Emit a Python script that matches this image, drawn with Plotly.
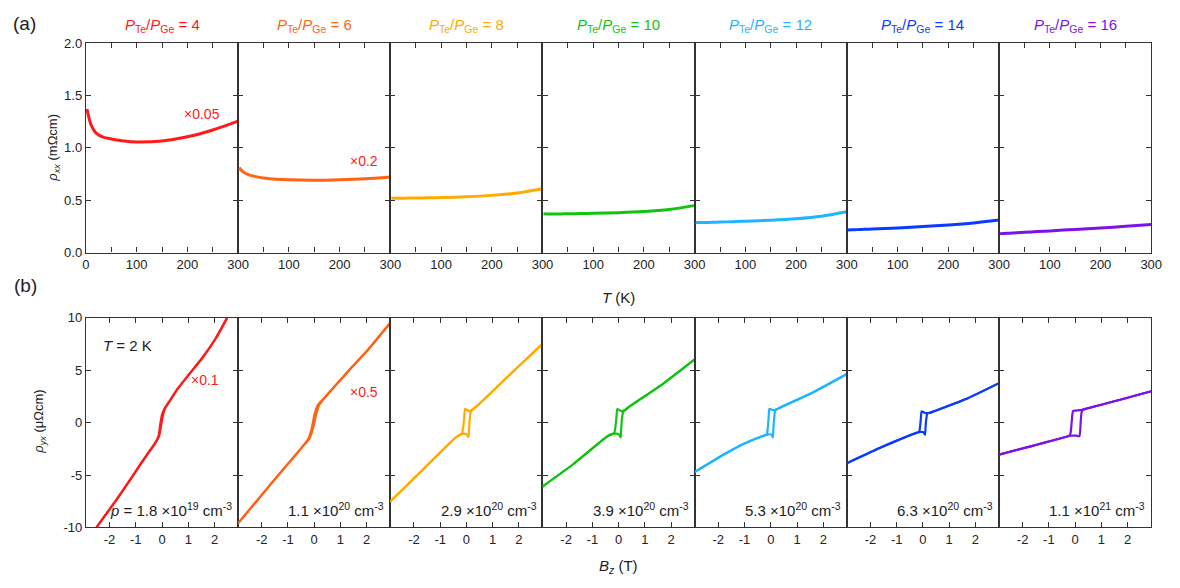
import plotly.graph_objects as go

W, H = 1180, 588

# ---------------- data ----------------
ratios = [4, 6, 8, 10, 12, 14, 16]
colors = ["#ff1a1a", "#ff6414", "#ffab00", "#12c412", "#1eb4ff", "#0a3cff", "#7a14e6"]

# (a) rho_xx vs T
T_vals = [2, 10, 20, 35, 50, 75, 100, 150, 200, 250, 300]
rxx_4 = [1.37, 1.22, 1.14, 1.10, 1.085, 1.065, 1.055, 1.065, 1.105, 1.17, 1.255]
rxx_6 = [0.81, 0.77, 0.745, 0.725, 0.712, 0.70, 0.694, 0.69, 0.695, 0.705, 0.722]
rxx_8 = [0.52, 0.518, 0.518, 0.52, 0.521, 0.523, 0.525, 0.533, 0.546, 0.569, 0.61]
rxx_10 = [0.37, 0.368, 0.368, 0.369, 0.370, 0.372, 0.375, 0.381, 0.392, 0.412, 0.448]
rxx_12 = [0.287, 0.286, 0.287, 0.289, 0.291, 0.295, 0.30, 0.309, 0.323, 0.347, 0.39]
rxx_14 = [0.216, 0.217, 0.219, 0.222, 0.225, 0.23, 0.235, 0.248, 0.263, 0.283, 0.31]
rxx_16 = [0.18, 0.182, 0.185, 0.19, 0.194, 0.20, 0.207, 0.221, 0.235, 0.251, 0.269]
rxx_all = [rxx_4, rxx_6, rxx_8, rxx_10, rxx_12, rxx_14, rxx_16]

# (b) rho_yx vs B (up sweep / down sweep)
B_up_4 = [-2.5, -1.72, -1.09, -0.59, -0.28, -0.11, -0.03, 0.04, 0.12, 0.29, 0.60, 1.04, 1.54, 2.05, 2.48]
r_up_4 = [-10, -7.30, -4.98, -3.12, -2.03, -1.26, -0.17, 0.76, 1.38, 2.06, 3.24, 4.64, 6.19, 8.05, 10]
B_dn_4 = [2.48, 2.05, 1.54, 1.04, 0.60, 0.29, 0.10, 0.0, -0.07, -0.13, -0.28, -0.59, -1.09, -1.72, -2.5]
r_dn_4 = [10, 8.05, 6.19, 4.64, 3.24, 2.06, 1.38, 0.76, -0.17, -1.26, -2.03, -3.12, -4.98, -7.30, -10]

B_up_6 = [-2.91, -1.72, -0.46, -0.19, -0.04, 0.07, 0.19, 0.48, 0.79, 1.42, 2.05, 2.90]
r_up_6 = [-9.63, -6.06, -2.34, -1.57, -0.48, 0.76, 1.69, 2.62, 3.49, 5.26, 6.96, 9.53]
B_dn_6 = [2.90, 2.05, 1.42, 0.79, 0.48, 0.14, 0.01, -0.09, -0.23, -0.46, -1.72, -2.91]
r_dn_6 = [9.53, 6.96, 5.26, 3.49, 2.62, 1.69, 0.76, -0.48, -1.57, -2.34, -6.06, -9.63]

B_up_8 = [-2.91, -1.72, -0.40, -0.20, 0.00, 0.08, 0.10, 0.13, 0.16, 0.25, 0.39, 1.64, 2.90]
r_up_8 = [-7.55, -4.64, -1.41, -1.10, -1.10, -1.38, -0.60, 0.40, 1.00, 1.30, 1.55, 4.54, 7.52]
B_dn_8 = [2.90, 1.64, 0.39, 0.25, 0.10, -0.05, -0.08, -0.12, -0.16, -0.19, -0.40, -1.72, -2.91]
r_dn_8 = [7.52, 4.54, 1.55, 1.25, 1.10, 1.30, 0.55, -0.40, -0.95, -1.10, -1.41, -4.64, -7.55]

B_up_10 = [-2.91, -1.72, -0.40, -0.20, 0.00, 0.08, 0.10, 0.13, 0.17, 0.27, 0.41, 1.64, 2.90]
r_up_10 = [-6.12, -3.95, -1.26, -1.05, -1.10, -1.41, -0.60, 0.40, 1.00, 1.25, 1.53, 3.60, 6.03]
B_dn_10 = [2.90, 1.64, 0.41, 0.25, 0.10, -0.05, -0.08, -0.12, -0.16, -0.20, -0.40, -1.72, -2.91]
r_dn_10 = [6.03, 3.60, 1.53, 1.20, 1.10, 1.29, 0.55, -0.40, -0.95, -1.08, -1.26, -3.95, -6.12]

B_up_12 = [-2.91, -1.72, -1.00, -0.28, -0.10, 0.03, 0.08, 0.10, 0.13, 0.16, 0.22, 0.31, 1.64, 2.90]
r_up_12 = [-4.73, -2.95, -2.00, -1.26, -1.12, -1.15, -1.41, -0.60, 0.40, 1.05, 1.25, 1.38, 2.93, 4.64]
B_dn_12 = [2.90, 1.64, 0.31, 0.20, 0.08, -0.05, -0.08, -0.11, -0.14, -0.18, -0.28, -1.00, -1.72, -2.91]
r_dn_12 = [4.64, 2.93, 1.38, 1.25, 1.20, 1.32, 0.55, -0.40, -1.00, -1.18, -1.26, -2.00, -2.95, -4.73]

B_up_14 = [-2.91, -1.72, -1.00, -0.21, -0.10, 0.02, 0.08, 0.10, 0.13, 0.16, 0.22, 0.31, 1.64, 2.90]
r_up_14 = [-3.89, -2.50, -1.72, -0.95, -0.88, -0.92, -1.16, -0.40, 0.40, 0.85, 0.92, 0.98, 2.25, 3.77]
B_dn_14 = [2.90, 1.64, 0.31, 0.20, 0.08, -0.05, -0.08, -0.11, -0.14, -0.17, -0.21, -1.00, -1.72, -2.91]
r_dn_14 = [3.77, 2.25, 0.98, 0.92, 0.92, 1.07, 0.40, -0.40, -0.85, -0.93, -0.95, -1.72, -2.50, -3.89]

B_up_16 = [-2.90, -1.58, -0.30, -0.15, 0.05, 0.16, 0.19, 0.21, 0.24, 0.28, 0.36, 1.68, 2.90]
r_up_16 = [-3.05, -2.19, -1.32, -1.25, -1.25, -1.30, -0.90, 0.00, 0.90, 1.18, 1.29, 2.16, 2.99]
B_dn_16 = [2.90, 1.68, 0.36, 0.20, 0.00, -0.08, -0.11, -0.14, -0.17, -0.21, -0.30, -1.58, -2.90]
r_dn_16 = [2.99, 2.16, 1.29, 1.20, 1.15, 1.10, 0.70, -0.20, -0.95, -1.22, -1.32, -2.19, -3.05]

hall = [
    (B_up_4, r_up_4, B_dn_4, r_dn_4),
    (B_up_6, r_up_6, B_dn_6, r_dn_6),
    (B_up_8, r_up_8, B_dn_8, r_dn_8),
    (B_up_10, r_up_10, B_dn_10, r_dn_10),
    (B_up_12, r_up_12, B_dn_12, r_dn_12),
    (B_up_14, r_up_14, B_dn_14, r_dn_14),
    (B_up_16, r_up_16, B_dn_16, r_dn_16),
]

carrier_mant = ["1.8", "1.1", "2.9", "3.9", "5.3", "6.3", "1.1"]
carrier_exp = ["19", "20", "20", "20", "20", "20", "21"]
scale_labels_a = ["×0.05", "×0.2"]
scale_labels_b = ["×0.1", "×0.5"]

T_tickvals = [0, 50, 100, 150, 200, 250, 300]
B_tickvals = [-2, -1, 0, 1, 2]
rxx_tickvals = [0, 0.5, 1.0, 1.5, 2.0]
ryx_tickvals = [-10, -5, 0, 5, 10]

# ---------------- layout geometry (pixels) ----------------
X0, X1 = 83, 1162
TOP_Y0, TOP_Y1 = 37, 252
BOT_Y0, BOT_Y1 = 319, 534
pw = (X1 - X0) / 7.0

def px(x):
    return x / W

def py(y):
    return 1 - y / H

FONT = "Liberation Sans, Arial, sans-serif"
AXC = "#333333"

fig = go.Figure()
layout = {}

for i in range(7):
    xd = [px(X0 + pw * i), px(X0 + pw * (i + 1))]
    ia = i + 1
    ib = i + 8
    xa = "x" if ia == 1 else f"x{ia}"
    ya = "y" if ia == 1 else f"y{ia}"
    xb = f"x{ib}"
    yb = f"y{ib}"

    fig.add_trace(go.Scatter(x=T_vals, y=rxx_all[i], mode="lines", xaxis=xa, yaxis=ya,
                             line=dict(color=colors[i], width=3, shape="spline", smoothing=0.8),
                             showlegend=False, hoverinfo="skip"))
    Bu, ru, Bd, rd = hall[i]
    for Bx, ry in ((Bu, ru), (Bd, rd)):
        fig.add_trace(go.Scatter(x=Bx, y=ry, mode="lines", xaxis=xb, yaxis=yb,
                                 line=dict(color=colors[i], width=2.2, shape="spline", smoothing=0.5),
                                 showlegend=False, hoverinfo="skip", cliponaxis=True))

    common = dict(showline=True, linecolor=AXC, linewidth=1.3, mirror="ticks", ticks="inside",
                  ticklen=5, tickwidth=1.1, tickcolor=AXC, showgrid=False, zeroline=False,
                  tickfont=dict(family=FONT, size=13, color="#222"), fixedrange=True)

    ttext = ["0" if i == 0 else "", "", "100", "", "200", "", "300"]
    layout["xaxis" if ia == 1 else f"xaxis{ia}"] = dict(
        domain=xd, anchor=ya, range=[0, 300], tickmode="array", tickvals=T_tickvals,
        ticktext=ttext, **common)
    layout["yaxis" if ia == 1 else f"yaxis{ia}"] = dict(
        domain=[py(TOP_Y1), py(TOP_Y0)], anchor=xa, range=[0, 2.0], tickmode="array",
        tickvals=rxx_tickvals, ticktext=["0.0", "0.5", "1.0", "1.5", "2.0"] if i == 0 else [""] * 5,
        **common)
    layout[f"xaxis{ib}"] = dict(
        domain=xd, anchor=yb, range=[-2.9, 2.9], tickmode="array", tickvals=B_tickvals,
        ticktext=["-2", "-1", "0", "1", "2"], **common)
    layout[f"yaxis{ib}"] = dict(
        domain=[py(BOT_Y1), py(BOT_Y0)], anchor=xb, range=[-10, 10], tickmode="array",
        tickvals=ryx_tickvals, ticktext=["-10", "-5", "0", "5", "10"] if i == 0 else [""] * 5,
        **common)

annotations = []

def ann(text, x, y, size=15, color="#222", xanchor="center", angle=0, yanchor="middle"):
    annotations.append(dict(text=text, x=px(x), y=py(y), xref="paper", yref="paper",
                            showarrow=False, xanchor=xanchor, yanchor=yanchor, textangle=angle,
                            font=dict(family=FONT, size=size, color=color)))

for i in range(7):
    cx = X0 + pw * (i + 0.5)
    ann(f"<i>P</i><sub>Te</sub>/<i>P</i><sub>Ge</sub> = {ratios[i]}", cx, 19, size=15, color=colors[i])
    right = X0 + pw * (i + 1) - 4
    pre = "<i>p</i> = " if i == 0 else ""
    ann(f"{pre}{carrier_mant[i]} ×10<sup>{carrier_exp[i]}</sup> cm<sup>-3</sup>", right, 516,
        size=15, xanchor="right")

ann("(a)", 21, 17, size=19)
ann("(b)", 22, 286, size=19)
ann(scale_labels_a[0], 201, 110, size=14, color="#ff1a1a")
ann(scale_labels_a[1], 365, 158, size=14, color="#ff1a1a")
ann(scale_labels_b[0], 204, 383, size=14, color="#ff1a1a")
ann(scale_labels_b[1], 365, 395, size=14, color="#ff1a1a")
ann("<i>T</i> = 2 K", 125, 347, size=15)
ann("<i>T</i> (K)", 622, 298, size=15)
ann("<i>B</i><sub><i>z</i></sub> (T)", 622, 574, size=15)
ann("<i>ρ</i><sub><i>xx</i></sub> (mΩcm)", 50, 144, size=13, angle=-90)
ann("<i>ρ</i><sub><i>yx</i></sub> (μΩcm)", 36, 426, size=13, angle=-90)

fig.update_layout(**layout)
fig.update_layout(width=W, height=H, margin=dict(l=0, r=0, t=0, b=0),
                  paper_bgcolor="white", plot_bgcolor="white", annotations=annotations,
                  showlegend=False)

fig.write_html("out.html")
